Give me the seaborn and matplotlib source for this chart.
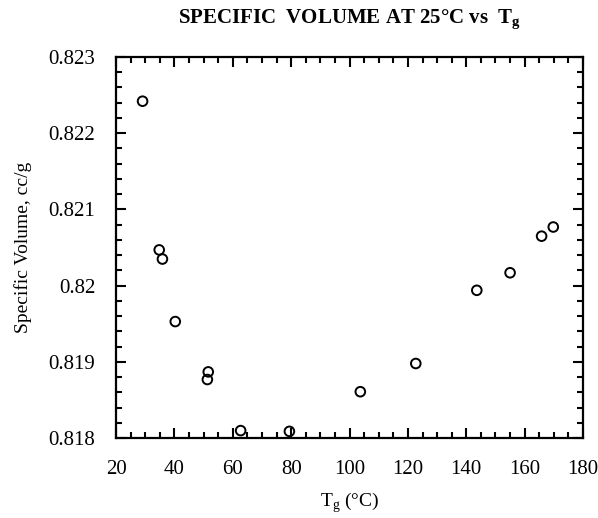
import numpy as np
import pandas as pd
import matplotlib
matplotlib.use("Agg")
import matplotlib.pyplot as plt
from matplotlib.ticker import MultipleLocator
import seaborn as sns

# Tg (deg C) and specific volume at 25 C (cc/g)
tg = [29.1, 34.8, 35.9, 40.3, 51.6, 51.3, 62.7, 79.4, 103.7, 122.7, 143.6, 155.0, 165.8, 169.8]
spec_vol = [0.82242, 0.82047, 0.82035, 0.81953, 0.81887, 0.81877, 0.81810, 0.81809,
            0.81861, 0.81898, 0.81994, 0.82017, 0.82065, 0.82077]

df = pd.DataFrame({"Tg": tg, "SpecificVolume": spec_vol})

sns.set_style("ticks", {"axes.edgecolor": "black", "xtick.color": "black",
                        "ytick.color": "black", "text.color": "black",
                        "axes.labelcolor": "black"})
plt.rcParams["font.family"] = ["Liberation Serif", "DejaVu Serif"]
plt.rcParams["mathtext.fontset"] = "custom"
plt.rcParams["mathtext.rm"] = "Liberation Serif"
plt.rcParams["mathtext.bf"] = "Liberation Serif:bold"

fig = plt.figure(figsize=(5.98, 5.18), dpi=100)
ax = fig.add_axes([0.194, 0.154, 0.781, 0.736])

sns.scatterplot(data=df, x="Tg", y="SpecificVolume", ax=ax, marker="o",
                s=48, facecolors="none", edgecolor="black", linewidth=1.4)

ax.set_xlim(20, 180)
ax.set_ylim(0.818, 0.823)
ax.xaxis.set_major_locator(MultipleLocator(20))
ax.xaxis.set_minor_locator(MultipleLocator(5))
ax.yaxis.set_major_locator(MultipleLocator(0.001))
ax.yaxis.set_minor_locator(MultipleLocator(0.0002))
ax.yaxis.set_major_formatter(plt.FuncFormatter(lambda v, p: f"{v:.3f}".rstrip("0")))

ax.tick_params(which="both", direction="in", top=True, right=True, width=1.5)
ax.tick_params(which="major", length=7, labelsize=15)
ax.tick_params(axis="x", which="major", pad=16)
ax.tick_params(axis="y", which="major", pad=15)
ax.tick_params(which="minor", length=4)
for sp in ax.spines.values():
    sp.set_linewidth(1.6)
    sp.set_visible(True)

ax.set_xlabel(r"T$_\mathregular{g}$ (°C)", fontsize=14, labelpad=8)
ax.set_ylabel("Specific Volume, cc/g", fontsize=14, labelpad=12)
ax.set_title(r"SPECIFIC  VOLUME AT 25°C vs  T$_\mathbf{g}$", fontsize=15,
             fontweight="bold", pad=24)

fig.savefig("out.png", dpi=100)
